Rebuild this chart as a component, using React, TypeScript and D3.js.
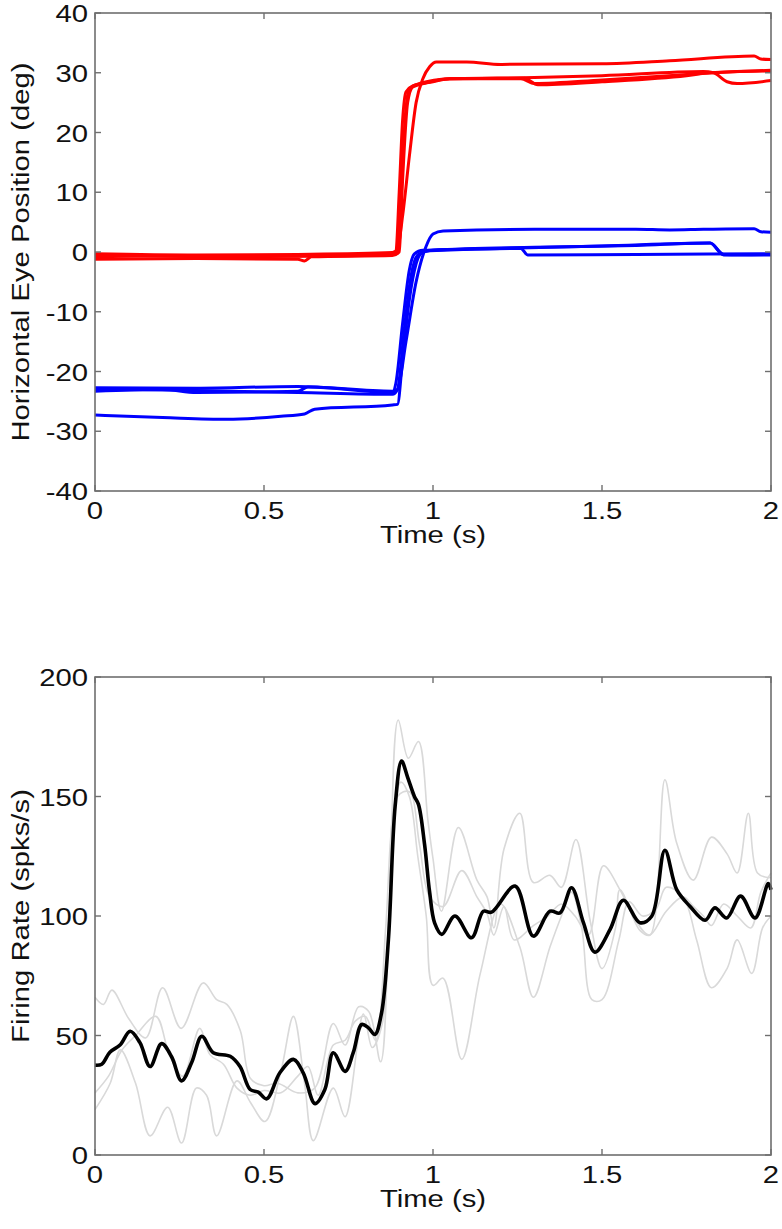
import React from "react";
import * as d3 from "d3";

// tick labels
const timeTicks = [0, 0.5, 1, 1.5, 2];
const eyeTicks = [-40, -30, -20, -10, 0, 10, 20, 30, 40];
const rateTicks = [0, 50, 100, 150, 200];

// eye traces: [time (s), position (deg)]
const redTrial1 = [[0, -0.3], [0.3, -0.5], [0.6, -0.4], [0.88, -0.1], [0.895, 0.5], [0.91, 6], [0.93, 16], [0.95, 25], [0.97, 29], [0.99, 31], [1.01, 31.8], [1.1, 31.8], [1.2, 31.4], [1.5, 31.5], [1.7, 32], [1.95, 32.8], [1.97, 32.3], [2.0, 32.2]];
const redTrial2 = [[0, -0.8], [0.3, -0.6], [0.6, -0.7], [0.88, -0.4], [0.89, 0], [0.9, 10], [0.91, 22], [0.92, 26.8], [0.94, 27.8], [1.0, 28.5], [1.05, 29], [1.26, 29], [1.3, 28.2], [1.5, 28.8], [1.75, 29.7], [1.83, 30], [1.9, 30.2], [2.0, 30.4]];
const redTrial3 = [[0, -0.5], [0.4, -0.8], [0.88, -0.3], [0.895, 0], [0.905, 10], [0.92, 24], [0.93, 27.3], [0.96, 28.2], [1.05, 29], [1.3, 29.2], [1.5, 29.5], [1.8, 30.2], [1.83, 30], [1.87, 28.5], [1.9, 28.2], [2.0, 28.7]];
const redTrial4 = [[0, -1.2], [0.3, -1.1], [0.6, -1.2], [0.62, -1.5], [0.64, -0.8], [0.88, -0.6], [0.9, 0], [0.91, 12], [0.925, 25], [0.94, 27.6], [0.98, 28.3], [1.05, 29], [1.27, 29.1], [1.31, 28], [1.5, 28.5], [1.75, 29.5], [1.82, 30], [2.0, 30.3]];

const blueTrial1 = [[0, -22.7], [0.3, -22.8], [0.6, -22.5], [0.88, -23.3], [0.895, -23], [0.92, -15], [0.95, -5], [0.98, 1], [1.0, 3], [1.03, 3.5], [1.3, 3.8], [1.6, 3.8], [1.7, 3.7], [1.8, 3.8], [1.95, 3.9], [1.97, 3.4], [2.0, 3.3]];
const blueTrial2 = [[0, -23.3], [0.2, -23], [0.3, -23.5], [0.6, -23.3], [0.63, -22.6], [0.88, -23.5], [0.89, -22], [0.91, -12], [0.93, -3], [0.945, -0.3], [0.97, 0.3], [1.2, 0.6], [1.5, 1.0], [1.82, 1.5], [1.86, -0.5], [2.0, -0.4]];
const blueTrial3 = [[0, -22.9], [0.3, -23.2], [0.6, -23.5], [0.88, -23.8], [0.895, -23], [0.915, -13], [0.935, -4], [0.955, -0.5], [0.99, 0.2], [1.26, 0.6], [1.28, -0.5], [1.6, -0.4], [2.0, -0.3]];
const blueTrial4 = [[0, -27.3], [0.2, -27.7], [0.39, -28], [0.55, -27.5], [0.62, -27.1], [0.65, -26.3], [0.88, -25.6], [0.895, -25.5], [0.91, -18], [0.93, -8], [0.95, -2], [0.97, 0], [1.0, 0.3], [1.3, 0.8], [1.6, 1.1], [1.82, 1.5], [1.86, -0.4], [2.0, -0.5]];

// firing rate: [time (s), spks/s]
const grayTrial1 = [[0, 66], [0.025, 63], [0.05, 69], [0.1, 57], [0.15, 49], [0.2, 70], [0.255, 53], [0.32, 72], [0.36, 65], [0.39, 63], [0.43, 52], [0.46, 32], [0.5, 29], [0.54, 30], [0.6, 26], [0.65, 28], [0.705, 55], [0.74, 46], [0.78, 62], [0.81, 60], [0.845, 39], [0.87, 100], [0.897, 182], [0.927, 166], [0.957, 173], [0.985, 140], [1.0, 124], [1.025, 102], [1.075, 137], [1.13, 115], [1.16, 108], [1.18, 95], [1.21, 128], [1.257, 143], [1.297, 114], [1.346, 117], [1.38, 112], [1.423, 132], [1.465, 98], [1.5, 78], [1.54, 95], [1.553, 111], [1.612, 94], [1.642, 92], [1.686, 157], [1.72, 131], [1.77, 115], [1.824, 133], [1.87, 126], [1.9, 118], [1.933, 143], [1.96, 118], [2.0, 116]];
const grayTrial2 = [[0, 26], [0.04, 33], [0.08, 44], [0.12, 50], [0.18, 58], [0.22, 42], [0.26, 33], [0.31, 53], [0.34, 42], [0.38, 38], [0.42, 28], [0.46, 25], [0.5, 27], [0.55, 26], [0.6, 33], [0.63, 37], [0.66, 25], [0.705, 46], [0.74, 48], [0.77, 56], [0.8, 58], [0.83, 48], [0.86, 95], [0.88, 140], [0.905, 156], [0.93, 150], [0.955, 125], [0.98, 100], [1.0, 71], [1.03, 74], [1.085, 40], [1.14, 76], [1.2, 105], [1.257, 87], [1.297, 66], [1.346, 87], [1.38, 100], [1.41, 110], [1.44, 95], [1.47, 65], [1.5, 65], [1.55, 90], [1.58, 106], [1.62, 100], [1.66, 103], [1.69, 112], [1.74, 108], [1.78, 90], [1.824, 70], [1.87, 78], [1.9, 90], [1.943, 76], [1.975, 95], [2.0, 100]];
const grayTrial3 = [[0, 19], [0.045, 30], [0.075, 44], [0.12, 30], [0.163, 8], [0.215, 20], [0.256, 5], [0.3, 28], [0.33, 25], [0.36, 8], [0.42, 31], [0.46, 22], [0.503, 14], [0.55, 35], [0.587, 58], [0.62, 30], [0.646, 6], [0.705, 28], [0.74, 16], [0.794, 59], [0.82, 45], [0.85, 55], [0.87, 100], [0.895, 150], [0.93, 152], [0.96, 130], [0.99, 108], [1.03, 104], [1.085, 119], [1.13, 108], [1.16, 101], [1.18, 92], [1.21, 104], [1.24, 90], [1.297, 96], [1.34, 100], [1.38, 105], [1.42, 100], [1.46, 92], [1.504, 121], [1.553, 111], [1.6, 98], [1.64, 92], [1.69, 102], [1.74, 108], [1.77, 104], [1.8, 100], [1.824, 96], [1.86, 105], [1.9, 100], [1.94, 95], [1.97, 110], [2.0, 118]];
const meanRate = [[0, 37.6], [0.02, 38], [0.044, 43], [0.074, 46], [0.104, 51.8], [0.133, 47], [0.163, 37], [0.197, 46.6], [0.227, 41], [0.256, 31], [0.286, 38.7], [0.316, 49.7], [0.35, 42.8], [0.4, 41.3], [0.429, 37], [0.459, 27.4], [0.483, 26.3], [0.508, 23.5], [0.547, 34.4], [0.587, 40], [0.616, 34.4], [0.651, 21.5], [0.68, 27.4], [0.705, 42.8], [0.74, 35], [0.764, 42.8], [0.789, 54.6], [0.809, 53.2], [0.828, 50.4], [0.848, 59.6], [0.868, 90], [0.888, 146], [0.907, 164.8], [0.925, 158], [0.945, 150], [0.957, 146.7], [0.975, 130], [0.99, 110], [1.005, 97], [1.026, 92.3], [1.065, 100], [1.114, 90.9], [1.149, 102], [1.173, 101.6], [1.243, 112.5], [1.297, 91.6], [1.346, 102], [1.376, 101.3], [1.41, 111.8], [1.445, 97.2], [1.479, 84.9], [1.524, 94.4], [1.563, 106.6], [1.612, 97.2], [1.647, 99.9], [1.686, 127.5], [1.721, 111], [1.76, 104.1], [1.805, 98.2], [1.834, 103.4], [1.869, 99.2], [1.91, 108.3], [1.953, 99.2], [1.992, 113.6], [2.0, 111]];

const FONT = "'Liberation Sans', Arial, sans-serif";
const AXIS = "#6f6f6f";
const FS = 24;
const WIDEN = 1.22; // the source font runs wider than Arial

function Label({ x, y, rotate = 0, anchor = "middle", children }) {
  return (
    <text
      transform={`translate(${x},${y}) rotate(${rotate}) scale(${WIDEN},1)`}
      textAnchor={anchor}
      fontSize={FS}
      fontFamily={FONT}
      fill="#111"
    >
      {children}
    </text>
  );
}

function Panel({ top, bottom, yDomain, yTicks, yLabel, children }) {
  const x = d3.scaleLinear().domain([0, 2]).range([95, 771]);
  const y = d3.scaleLinear().domain(yDomain).range([bottom, top]);
  const tickLen = 6;
  return (
    <g>
      {children(x, y)}
      <rect x={95} y={top} width={676} height={bottom - top} fill="none" stroke={AXIS} strokeWidth={1.6} />
      {yTicks.map((t) => (
        <g key={"y" + t}>
          <line x1={95} x2={95 + tickLen} y1={y(t)} y2={y(t)} stroke={AXIS} strokeWidth={1.4} />
          <line x1={771} x2={771 - tickLen} y1={y(t)} y2={y(t)} stroke={AXIS} strokeWidth={1.4} />
          <Label x={88} y={y(t) + 9} anchor="end">{t}</Label>
        </g>
      ))}
      {timeTicks.map((t) => (
        <g key={"x" + t}>
          <line x1={x(t)} x2={x(t)} y1={bottom} y2={bottom - tickLen} stroke={AXIS} strokeWidth={1.4} />
          <line x1={x(t)} x2={x(t)} y1={top} y2={top + tickLen} stroke={AXIS} strokeWidth={1.4} />
          <Label x={x(t)} y={bottom + 28}>{t}</Label>
        </g>
      ))}
      <Label x={433} y={bottom + 52}>Time (s)</Label>
      <Label x={29} y={(top + bottom) / 2} rotate={-90}>{yLabel}</Label>
    </g>
  );
}

export default function App() {
  const reds = [redTrial1, redTrial2, redTrial3, redTrial4];
  const blues = [blueTrial1, blueTrial2, blueTrial3, blueTrial4];
  const grays = [grayTrial1, grayTrial2, grayTrial3];
  return (
    <div>
      <style>{"body{margin:0}"}</style>
      <svg width={782} height={1229} style={{ display: "block", background: "#fff" }}>
        <Panel top={13} bottom={491} yDomain={[-40, 40]} yTicks={eyeTicks} yLabel="Horizontal Eye Position (deg)">
          {(x, y) => {
            const line = d3.line().x((d) => x(d[0])).y((d) => y(d[1])).curve(d3.curveMonotoneX);
            return (
              <g fill="none" strokeWidth={3} strokeLinejoin="round">
                {reds.map((r, i) => <path key={"r" + i} d={line(r)} stroke="#ff0000" />)}
                {blues.map((b, i) => <path key={"b" + i} d={line(b)} stroke="#0000ff" />)}
              </g>
            );
          }}
        </Panel>
        <Panel top={677} bottom={1155} yDomain={[0, 200]} yTicks={rateTicks} yLabel="Firing Rate (spks/s)">
          {(x, y) => {
            const line = d3.line().x((d) => x(d[0])).y((d) => y(d[1])).curve(d3.curveCatmullRom.alpha(0.5));
            return (
              <g fill="none" strokeLinejoin="round">
                {grays.map((g, i) => <path key={"g" + i} d={line(g)} stroke="#d9d9d9" strokeWidth={1.6} />)}
                <path d={line(meanRate)} stroke="#000" strokeWidth={3.6} />
              </g>
            );
          }}
        </Panel>
      </svg>
    </div>
  );
}
